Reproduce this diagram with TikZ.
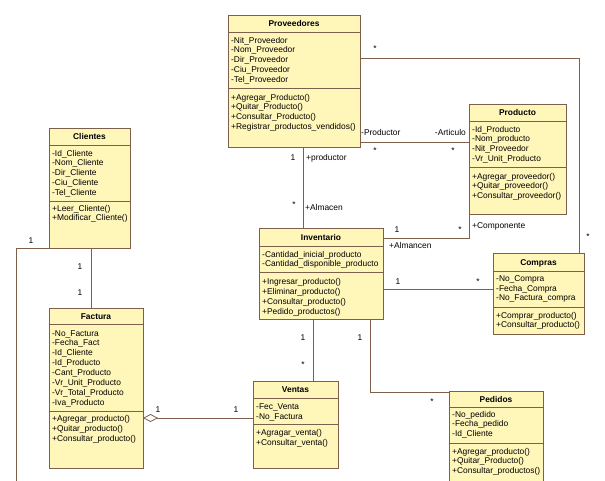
\documentclass[tikz,border=0pt]{standalone}
\usepackage{fontspec}
\setmainfont{Liberation Sans}
\usetikzlibrary{arrows.meta,calc}
\definecolor{boxfill}{RGB}{255,246,186}
\definecolor{edgecol}{RGB}{125,95,75}
\tikzset{
  classbox/.style={draw=edgecol, fill=boxfill, line width=0.9pt, anchor=north west, inner sep=0pt, outer sep=0pt},
  sepline/.style={draw=edgecol, line width=0.8pt},
  ctitle/.style={font=\fontsize{8.4}{10}\selectfont\bfseries, anchor=center, inner sep=0pt, text height=6pt, text depth=0pt},
  clist/.style={font=\fontsize{8.4}{9.9}\selectfont, align=left, anchor=north west, inner sep=0pt},
  lab/.style={font=\fontsize{8.4}{10}\selectfont, inner sep=0pt, text height=6pt, text depth=0pt},
  assoc/.style={draw=edgecol, line width=0.8pt},
  aggr/.style={assoc, {Diamond[length=15pt,width=8pt,fill=white,line width=0.8pt]}-},
}
\newcommand{\umlclass}[7]{%
  \node[classbox, minimum width={(#4-#2)*1pt}, minimum height={(#5-#3)*1pt}] (#1) at (#2,#3) {};
  \draw[sepline] (#2,#6) -- (#4,#6);
  \draw[sepline] (#2,#7) -- (#4,#7);
}
\catcode`\_=12
\begin{document}
\begin{tikzpicture}[x=1pt,y=-1pt]
\useasboundingbox (0,0) rectangle (605,480);
\clip (0,0) rectangle (605,480);
\fill[white] (0,0) rectangle (605,480);

% Proveedores
\umlclass{prov}{228}{15}{360}{147}{32}{88}
\node[ctitle] (provT) at (294,23.5) {Proveedores};
\node[clist] (provA) at (231,36.8) {-Nit_Proveedor\\-Nom_Proveedor\\-Dir_Proveedor\\-Ciu_Proveedor\\-Tel_Proveedor};
\node[clist] (provO) at (231,93.8) {+Agregar_Producto()\\+Quitar_Producto()\\+Consultar_Producto()\\+Registrar_productos_vendidos()};

% Producto
\umlclass{prod}{469}{104}{566}{214}{121}{167}
\node[ctitle] (prodT) at (517.5,112.5) {Producto};
\node[clist] (prodA) at (472,125.8) {-Id_Producto\\-Nom_producto\\-Nit_Proveedor\\-Vr_Unit_Producto};
\node[clist] (prodO) at (472,172.8) {+Agregar_proveedor()\\+Quitar_proveedor()\\+Consultar_proveedor()};

% Clientes
\umlclass{cli}{49}{128}{130}{248}{145}{201}
\node[ctitle] (cliT) at (89.5,136.5) {Clientes};
\node[clist] (cliA) at (52,149.8) {-Id_Cliente\\-Nom_Cliente\\-Dir_Cliente\\-Ciu_Cliente\\-Tel_Cliente};
\node[clist] (cliO) at (52,204.8) {+Leer_Cliente()\\+Modificar_Cliente()};

% Inventario
\umlclass{inv}{259}{228}{383}{319}{246}{272}
\node[ctitle] (invT) at (321,237) {Inventario};
\node[clist] (invA) at (262,250.8) {-Cantidad_inicial_producto\\-Cantidad_disponible_producto};
\node[clist] (invO) at (262,278.5) {+Ingresar_producto()\\+Eliminar_producto()\\+Consultar_producto()\\+Pedido_productos()};

% Compras
\umlclass{comp}{493}{253}{584}{334}{271}{307}
\node[ctitle] (compT) at (538.5,262) {Compras};
\node[clist] (compA) at (496,275.1) {-No_Compra\\-Fecha_Compra\\-No_Factura_compra};
\node[clist] (compO) at (496,311.8) {+Comprar_producto()\\+Consultar_producto()};

% Factura
\umlclass{fact}{49}{308}{143}{468}{324}{411}
\node[ctitle] (factT) at (96,316) {Factura};
\node[clist] (factA) at (52,330.1) {-No_Factura\\-Fecha_Fact\\-Id_Cliente\\-Id_Producto\\-Cant_Producto\\-Vr_Unit_Producto\\-Vr_Total_Producto\\-Iva_Producto};
\node[clist] (factO) at (52,415.1) {+Agregar_producto()\\+Quitar_producto()\\+Consultar_producto()};

% Ventas
\umlclass{vent}{253}{381}{338}{468}{398}{424}
\node[ctitle] (ventT) at (295.5,389.5) {Ventas};
\node[clist] (ventA) at (256,403.5) {-Fec_Venta\\-No_Factura};
\node[clist] (ventO) at (256,429.5) {+Agragar_venta()\\+Consultar_venta()};

% Pedidos
\umlclass{ped}{449}{391}{543}{500}{407}{443}
\node[ctitle] (pedT) at (496,399) {Pedidos};
\node[clist] (pedA) at (452,410.8) {-No_pedido\\-Fecha_pedido\\-Id_Cliente};
\node[clist] (pedO) at (452,447.8) {+Agregar_producto()\\+Quitar_Producto()\\+Consultar_productos()};

% connectors
\draw[assoc] ($(prov.north east)+(0,43)$) -| ($(comp.north west)+(86,0)$);
\draw[assoc] ($(prov.north east)+(0,127)$) -- ($(prod.north west)+(0,38)$);
\draw[assoc] ($(prov.south west)+(75,0)$) -- ($(inv.north west)+(44,0)$);
\draw[assoc] (prod.south west) |- ($(inv.north east)+(0,10)$);
\draw[assoc] ($(inv.north east)+(0,61)$) -- ($(comp.north west)+(0,36)$);
\draw[assoc] ($(inv.south west)+(54,0)$) -- ($(vent.north west)+(60,0)$);
\draw[assoc] ($(inv.south west)+(111,0)$) |- ($(ped.north west)+(0,1)$);
\draw[assoc] ($(cli.south west)+(42,0)$) -- ($(fact.north west)+(42,0)$);
\coordinate (cliend) at (16,500);
\draw[assoc] (cli.south west) -| (cliend);
\draw[aggr] ($(fact.north east)+(0,110)$) -- ($(vent.north west)+(0,37)$);

% labels
\node[lab] (m1) at (375,48) {*};
\node[lab] (m2) at (588,236) {*};
\node[lab,anchor=west] (r1) at (361,132) {-Productor};
\node[lab,anchor=east] (r2) at (466,132) {-Articulo};
\node[lab] (m3) at (375,150) {*};
\node[lab] (m4) at (453,150) {*};
\node[lab] (m5) at (293,157) {1};
\node[lab,anchor=west] (r3) at (306,157) {+productor};
\node[lab] (m6) at (294,204) {*};
\node[lab,anchor=west] (r4) at (305,207) {+Almacen};
\node[lab] (m7) at (397,229) {1};
\node[lab] (m8) at (460,229) {*};
\node[lab,anchor=west] (r5) at (389,245) {+Almancen};
\node[lab,anchor=west] (r6) at (472,225) {+Componente};
\node[lab] (m9) at (398,281) {1};
\node[lab] (m10) at (478,281) {*};
\node[lab] (m11) at (303,337) {1};
\node[lab] (m12) at (303,364) {*};
\node[lab] (m13) at (360,337) {1};
\node[lab] (m14) at (432,401) {*};
\node[lab] (m15) at (80,266) {1};
\node[lab] (m16) at (80,292) {1};
\node[lab] (m17) at (31,240) {1};
\node[lab] (m18) at (158,409) {1};
\node[lab] (m19) at (236,409) {1};
\end{tikzpicture}
\end{document}
